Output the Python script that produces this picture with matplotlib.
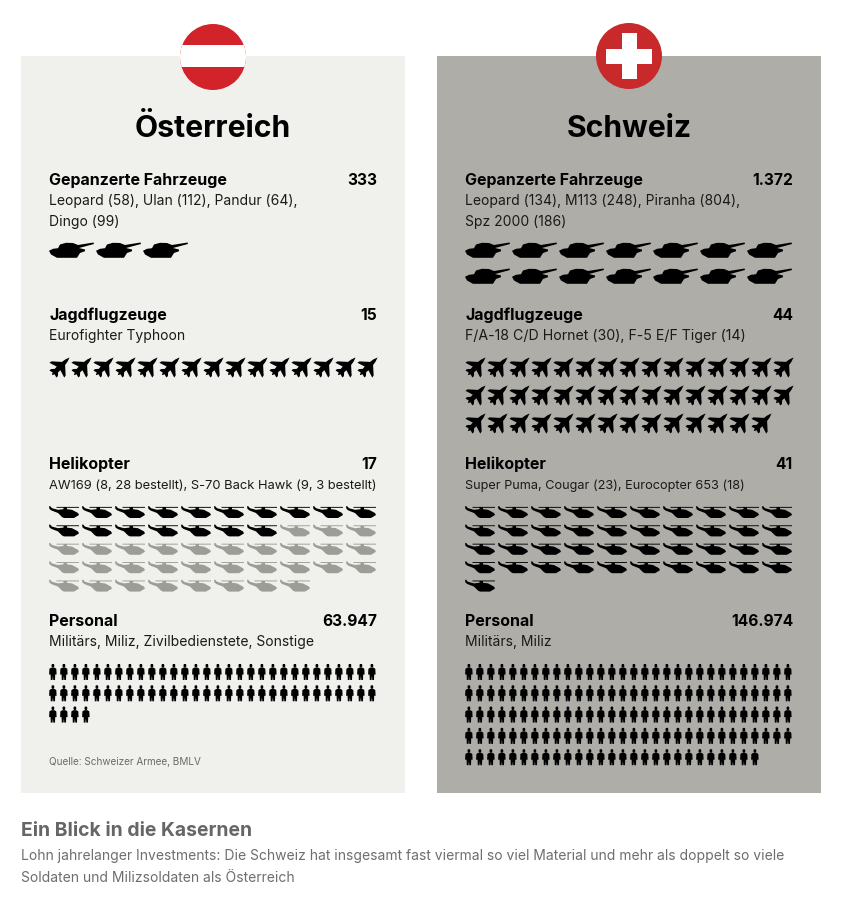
import matplotlib
matplotlib.use('Agg')
import matplotlib.pyplot as plt
from matplotlib.patches import Circle, PathPatch, Rectangle
from matplotlib.path import Path
from matplotlib.transforms import Affine2D

plt.rcParams['font.family'] = ['Inter', 'DejaVu Sans']

# ── data ──────────────────────────────────────────────────────────────────────
countries = ['Österreich', 'Schweiz']
categories = ['Gepanzerte Fahrzeuge', 'Jagdflugzeuge', 'Helikopter', 'Personal']
totals_at = ['333', '15', '17', '63.947']
totals_ch = ['1.372', '44', '41', '146.974']
details_at = [
    ['Leopard (58), Ulan (112), Pandur (64),', 'Dingo (99)'],
    ['Eurofighter Typhoon'],
    ['AW169 (8, 28 bestellt), S-70 Back Hawk (9, 3 bestellt)'],
    ['Militärs, Miliz, Zivilbedienstete, Sonstige'],
]
details_ch = [
    ['Leopard (134), M113 (248), Piranha (804),', 'Spz 2000 (186)'],
    ['F/A-18 C/D Hornet (30), F-5 E/F Tiger (14)'],
    ['Super Puma, Cougar (23), Eurocopter 653 (18)'],
    ['Militärs, Miliz'],
]
# icons: one per unit, (in service, on order)
icons_at = [(3, 0), (15, 0), (17, 31), (64, 0)]
icons_ch = [(14, 0), (44, 0), (41, 0), (147, 0)]
source = 'Quelle: Schweizer Armee, BMLV'
headline = 'Ein Blick in die Kasernen'
subline = ['Lohn jahrelanger Investments: Die Schweiz hat insgesamt fast viermal so viel Material und mehr als doppelt so viele',
           'Soldaten und Milizsoldaten als Österreich']

# ── icon shapes (local pixels) ────────────────────────────────────────────────
TANK = [[(0, 8.8), (4, 6.8), (9, 6.2), (11, 2.5), (17, 0.8), (24, 1), (29, 3), (44.5, 0.5), (45, 2), (30, 6),
         (36, 7.5), (36, 9.2), (31, 11), (28, 15.8), (8, 15.8), (2, 12.5)]]
JET = [[(0, -13.5), (1.6, -9), (2.2, -5), (10, 2), (10.5, 4.5), (2.6, 2), (2.4, 5), (5, 8), (4.8, 10),
        (1.4, 9), (0, 11.5), (-1.4, 9), (-4.8, 10), (-5, 8), (-2.4, 5), (-2.6, 2), (-10.5, 4.5), (-10, 2),
        (-2.2, -5), (-1.6, -9)]]
HELI = [[(0, 0.5), (1, 0), (3, 2.2), (9, 3.8), (14.5, 3.2), (14.5, 1.8), (7.5, 1.8), (7.5, 0.9), (30, 0.9), (30, 1.8),
         (18, 1.8), (18, 3.2), (23, 3.8), (29, 7), (30, 9), (27, 10.8), (25, 12), (15, 12), (13, 11),
         (9, 7), (2.5, 4.5), (0.5, 3)]]
PERSON = [[(2.3, 3.6), (5.5, 3.6), (7.3, 4.8), (7.6, 10.5), (6.2, 10.5), (6, 16), (4.3, 16), (3.9, 12),
           (3.5, 16), (1.8, 16), (1.6, 10.5), (0.1, 10.5), (0.4, 4.8)],
          [(3.9 + dx, dy) for dx, dy in ((-1.4, 1), (-0.9, 0), (0.9, 0), (1.4, 1), (1.3, 2.6), (0.6, 3.6), (-0.6, 3.6), (-1.3, 2.6))]]


def draw_icon(ax, shape, x, y, color, rot=0):
    tr = Affine2D().rotate_deg(rot).translate(x, y) + ax.transData
    for pts in shape:
        path = Path(pts + [pts[0]], closed=True)
        ax.add_patch(PathPatch(path, fc=color, ec='none', transform=tr))


def draw_row(ax, shape, n_black, n_grey, x0, y0, dx, dy, per_row, rot=0):
    for i in range(n_black + n_grey):
        color = 'black' if i < n_black else GREY
        draw_icon(ax, shape, x0 + dx * (i % per_row), y0 + dy * (i // per_row), color, rot)


# ── layout ────────────────────────────────────────────────────────────────────
GREY = '#9d9d98'
RED = '#d2232a'
fig = plt.figure(figsize=(8.48, 9.08), dpi=100)
ax = fig.add_axes([0, 0, 1, 1])
ax.set_xlim(0, 848)
ax.set_ylim(908, 0)
ax.axis('off')

PANELS = [(21, '#f0f0ec'), (437, '#aeada8')]
TITLE_Y = [185, 320, 469, 626]
DETAIL_SIZE = [[10.03, 10.03, 9.3, 10.03], [10.03, 10.2, 9.15, 10.03]]
ICON_SETUP = [
    (TANK, 49, 242, 47, 26, 7, 0),
    (JET, 60, 367, 22, 28, 15, 45),
    (HELI, 49, 506, 33, 18.4, 10, 0),
    (PERSON, 49, 664, 11, 21.3, 30, 0),
]

for p, (px, col) in enumerate(PANELS):
    ax.add_patch(Rectangle((px, 56), 384, 737, fc=col, ec='none', zorder=0))
    left = px + 28
    right = px + 356
    cx = px + 192
    ax.text(cx, 137, countries[p], ha='center', va='baseline', fontsize=21.7, fontweight='bold', color='black')
    totals = totals_at if p == 0 else totals_ch
    details = details_at if p == 0 else details_ch
    icons = icons_at if p == 0 else icons_ch
    for k, cat in enumerate(categories):
        ax.text(left, TITLE_Y[k], cat, fontsize=11.5, fontweight='bold', color='black', va='baseline')
        ax.text(right, TITLE_Y[k], totals[k], fontsize=11.2, fontweight='bold', color='black', ha='right', va='baseline')
        for j, line in enumerate(details[k]):
            ax.text(left, TITLE_Y[k] + 20 + j * 21, line, fontsize=DETAIL_SIZE[p][k], color='#1a1a1a', va='baseline')
        shape, x0, y0, dx, dy, per_row, rot = ICON_SETUP[k]
        draw_row(ax, shape, icons[k][0], icons[k][1], x0 + px - 21, y0, dx, dy, per_row, rot)

# flags
ax.add_patch(Circle((213, 57), 33, fc=RED, ec='none', zorder=3))
band = Rectangle((180, 45), 66, 22, fc='white', ec='none', zorder=4)
ax.add_patch(band)
band.set_clip_path(Circle((213, 57), 33, transform=ax.transData))
ax.add_patch(Circle((629, 56), 33, fc='#c8292b', ec='none', zorder=3))
ax.add_patch(Rectangle((606, 48.5), 46, 15, fc='white', ec='none', zorder=4))
ax.add_patch(Rectangle((621.5, 33), 15, 46, fc='white', ec='none', zorder=4))

ax.text(49, 765, source, fontsize=7.2, color='#6b6b68', va='baseline')
ax.text(21, 836, headline, fontsize=13.9, fontweight='bold', color='#666666', va='baseline')
for j, line in enumerate(subline):
    ax.text(21, 860 + j * 22, line, fontsize=10.03, color='#6e6e6e', va='baseline')

fig.savefig('out.png', dpi=100, facecolor='white')
